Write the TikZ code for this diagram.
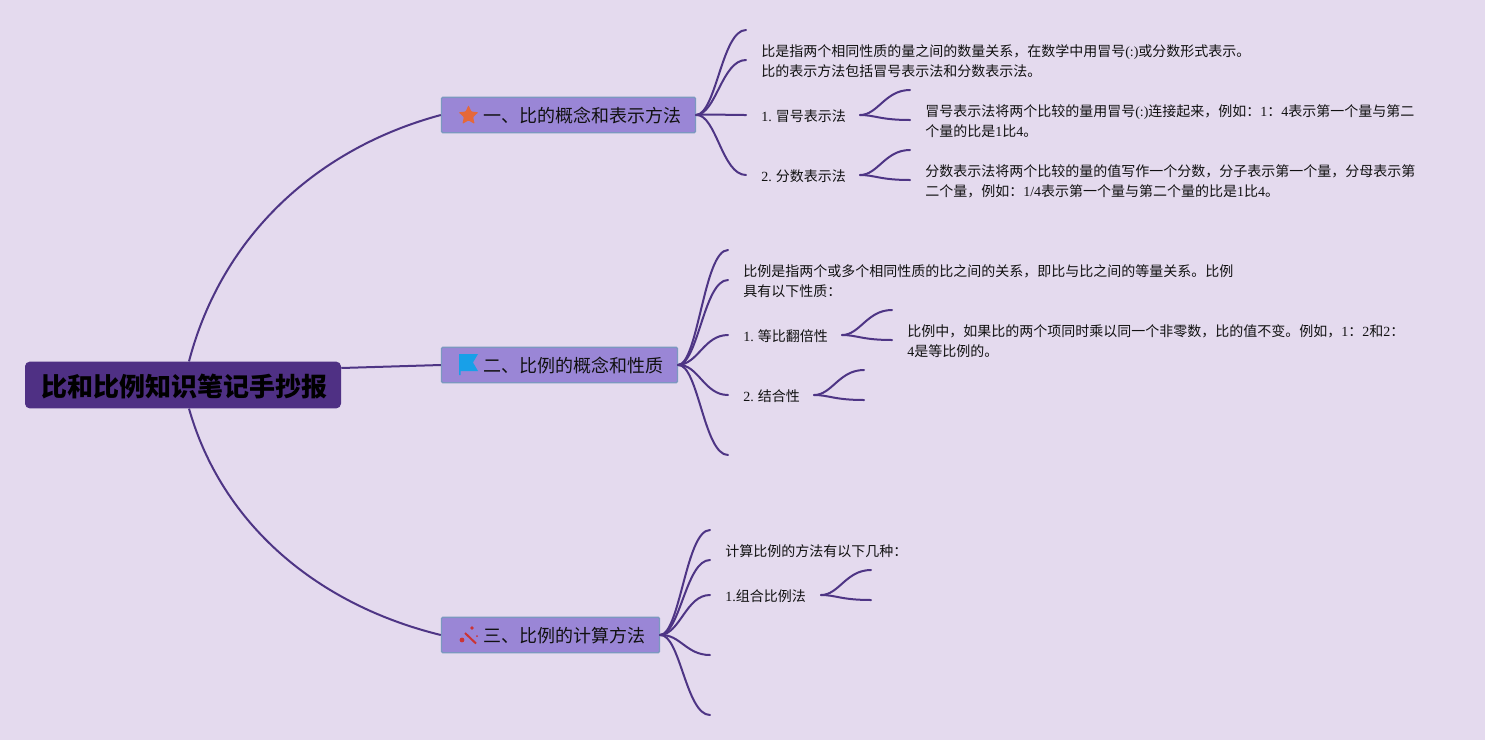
\documentclass[tikz,border=0pt]{standalone}
\usepackage{fontspec}
\setmainfont{Noto Sans CJK SC}
\newfontfamily\latf{Liberation Serif}
\newcommand{\ltn}[1]{{\latf #1}}
\usetikzlibrary{shapes.geometric,calc}
\definecolor{bgc}{HTML}{E4DAEE}
\definecolor{topicf}{HTML}{9A86D6}
\definecolor{topicb}{HTML}{7C98C0}
\definecolor{rootf}{HTML}{4F3084}
\definecolor{linec}{HTML}{4E3585}
\definecolor{textc}{HTML}{111111}
\definecolor{staric}{HTML}{E5683A}
\definecolor{flagic}{HTML}{18A0E8}
\definecolor{wandic}{HTML}{CC3333}
\tikzset{
  x=0.75pt,y=-0.75pt,
  rootbox/.style={fill=rootf,rounded corners=3.5pt,minimum width=237pt,minimum height=35pt,inner sep=0pt},
  roottext/.style={anchor=base west,inner sep=0pt,font=\fontsize{19.5pt}{22pt}\selectfont\bfseries,text=black},
  topicbox/.style={draw=topicb,fill=topicf,line width=1pt,rounded corners=1pt,minimum height=26.5pt,inner sep=0pt},
  topictext/.style={anchor=base west,inner sep=0pt,font=\fontsize{13.5pt}{16pt}\selectfont,text=textc},
  leaf/.style={anchor=west,inner sep=0pt,align=left,font=\fontsize{10.5pt}{15pt}\selectfont,text=textc},
  link/.style={draw=linec,line width=1.5pt,line cap=round},
  rlink/.style={draw=linec,line width=1.5pt},
}
\begin{document}
\begin{tikzpicture}
\useasboundingbox (0,0) rectangle (1485,740);
\fill[bgc] (0,0) rectangle (1485,740);

% free ends
\foreach \n/\x/\y in {a1/746/30,a2/746/60,a3/746/115,a4/746/175,a5/910/90,a6/910/120,a7/910/150,a8/910/180,
 b1/728/250,b2/728/280,b3/728/335,b4/728/395,b5/728/455,b6/892/310,b7/892/340,b8/864/370,b9/864/400,
 c1/710/530,c2/710/560,c3/710/595,c4/710/655,c5/710/715,c6/871/570,c7/871/600,
 s1/860/115,s2/860/175,s3/842/335,s4/814/395,s5/821/595}{\coordinate (\n) at (\x,\y);}

\node[rootbox] (root) at (183,385) {};
\node[roottext] (rl) at (41,396) {比和比例知识笔记手抄报};
\node[topicbox,minimum width=190.5pt] (t1) at (568.5,115) {};
\node[topicbox,minimum width=177pt] (t2) at (559.5,365) {};
\node[topicbox,minimum width=163.5pt] (t3) at (550.5,635) {};
\node[topictext] (l1) at (483,122) {一、比的概念和表示方法};
\node[topictext] (l2) at (483,372) {二、比例的概念和性质};
\node[topictext] (l3) at (483,642) {三、比例的计算方法};

% icons
\node[star,star points=5,star point ratio=2.1,fill=staric,draw=none,minimum size=15.5pt,inner sep=0pt,rounded corners=0.6pt] (ic1) at (468.5,115.5) {};
\fill[flagic] (459,354) -- (478,354) -- (473,362.5) -- (478,371) -- (460.5,371) -- (460.5,375) -- (459,375) -- cycle;
\draw[wandic,line width=1.5pt] (465,633) -- (476,643.5);
\fill[wandic] (462,640) circle (2.4) (472,628) circle (1.8) (477,636) circle (1);

% root links
\draw[rlink] ([xshift=4.5pt]root.north) .. controls (222,235) and (318,148) .. (t1.west);
\draw[rlink] ([xshift=4.5pt]root.south) .. controls (222,525) and (318,605) .. (t3.west);
\draw[rlink] (root.east |- 0,368) -- (t2.west);

% branch links
\foreach \e in {a1,a2,a3,a4}{\draw[link] (t1.east) .. controls +(20,-1) and ($(\e)+(-24,0)$) .. (\e);}
\foreach \e in {b1,b2,b3,b4,b5}{\draw[link] (t2.east) .. controls +(20,-1) and ($(\e)+(-24,0)$) .. (\e);}
\foreach \e in {c1,c2,c3,c4,c5}{\draw[link] (t3.east) .. controls +(20,-1) and ($(\e)+(-24,0)$) .. (\e);}
\draw[link] (s1) .. controls +(18,0) and ($(a5)+(-25,0)$) .. (a5);
\draw[link] (s1) .. controls +(15,0) and ($(a6)+(-30,0)$) .. (a6);
\draw[link] (s2) .. controls +(18,0) and ($(a7)+(-25,0)$) .. (a7);
\draw[link] (s2) .. controls +(15,0) and ($(a8)+(-30,0)$) .. (a8);
\draw[link] (s3) .. controls +(18,0) and ($(b6)+(-25,0)$) .. (b6);
\draw[link] (s3) .. controls +(15,0) and ($(b7)+(-30,0)$) .. (b7);
\draw[link] (s4) .. controls +(18,0) and ($(b8)+(-25,0)$) .. (b8);
\draw[link] (s4) .. controls +(15,0) and ($(b9)+(-30,0)$) .. (b9);
\draw[link] (s5) .. controls +(18,0) and ($(c6)+(-25,0)$) .. (c6);
\draw[link] (s5) .. controls +(15,0) and ($(c7)+(-30,0)$) .. (c7);

% leaf texts
\node[leaf] (n1) at (761,61) {比是指两个相同性质的量之间的数量关系，在数学中用冒号\ltn{(:)}或分数形式表示。\\比的表示方法包括冒号表示法和分数表示法。};
\node[leaf] (n2) at (761,116) {\ltn{1.} 冒号表示法};
\node[leaf] (n3) at (925,121) {冒号表示法将两个比较的量用冒号\ltn{(:)}连接起来，例如：\ltn{1}：\ltn{4}表示第一个量与第二\\个量的比是\ltn{1}比\ltn{4}。};
\node[leaf] (n4) at (761,176) {\ltn{2.} 分数表示法};
\node[leaf] (n5) at (925,181) {分数表示法将两个比较的量的值写作一个分数，分子表示第一个量，分母表示第\\二个量，例如：\ltn{1/4}表示第一个量与第二个量的比是\ltn{1}比\ltn{4}。};
\node[leaf] (n6) at (743,281) {比例是指两个或多个相同性质的比之间的关系，即比与比之间的等量关系。比例\\具有以下性质：};
\node[leaf] (n7) at (743,336) {\ltn{1.} 等比翻倍性};
\node[leaf] (n8) at (907,341) {比例中，如果比的两个项同时乘以同一个非零数，比的值不变。例如，\ltn{1}：\ltn{2}和\ltn{2}：\\\ltn{4}是等比例的。};
\node[leaf] (n9) at (743,396) {\ltn{2.} 结合性};
\node[leaf] (n10) at (725,551) {计算比例的方法有以下几种：};
\node[leaf] (n11) at (725,596) {\ltn{1.}组合比例法};
\end{tikzpicture}
\end{document}
